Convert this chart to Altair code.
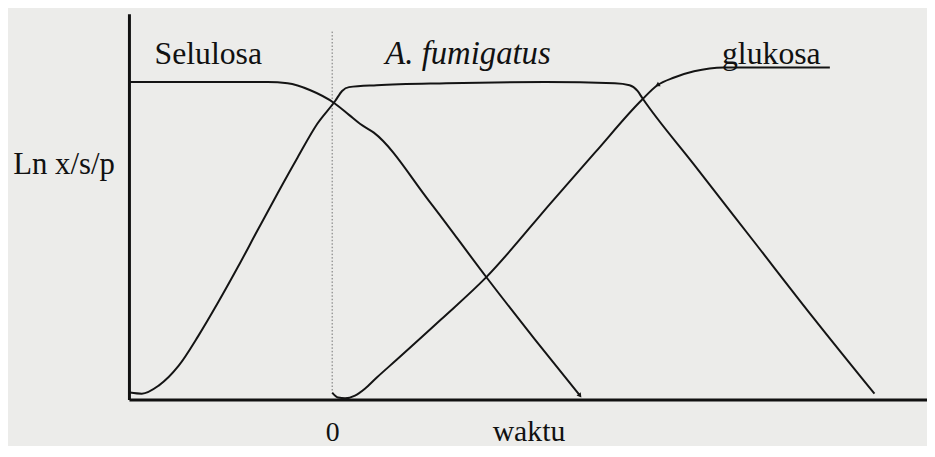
import altair as alt
import pandas as pd

# Selulosa (substrat) : waktu, ln
sel_t = [-4.1, -2.7, -1.3, -0.9, -0.44, 0.04, 0.34, 0.56, 0.84, 1.96, 3.10, 4.10, 5.00]
sel_v = [8.23, 8.23, 8.23, 8.20, 8.02, 7.69, 7.38, 7.15, 6.92, 5.14, 3.19, 1.54, 0.10]

# A. fumigatus (biomassa)
bio_t = [-4.08, -3.84, -3.5, -3.1, -2.7, -2.3, -1.9, -1.5, -1.1, -0.7, -0.3, 0.06, 0.2, 0.34,
         0.9, 2.3, 4.3, 5.7, 6.0, 6.16, 6.26, 7.3, 8.5, 9.7, 10.94]
bio_v = [0.18, 0.15, 0.36, 0.87, 1.65, 2.52, 3.44, 4.40, 5.35, 6.27, 7.15, 7.74, 8.0, 8.10,
         8.15, 8.20, 8.23, 8.20, 8.15, 8.0, 7.81, 6.09, 4.11, 2.13, 0.15]

# glukosa (produk)
glu_t = [0.0, 0.12, 0.26, 0.46, 0.66, 0.9, 1.3, 2.2, 3.1, 4.44, 5.3, 6.24, 6.56, 6.9, 7.3, 7.9, 10.04]
glu_v = [0.18, 0.05, 0.03, 0.10, 0.28, 0.57, 1.03, 2.08, 3.16, 5.14, 6.40, 7.76, 8.15, 8.35, 8.51, 8.61, 8.61]

# dotted marker at t = 0
fase_t = [0.0]
fase_top = [9.54]
fase_bot = [0.18]

label_text = ["Selulosa", "glukosa"]
label_t = [-2.5, 8.86]
label_v = [8.69, 8.69]
italic_text = ["A. fumigatus"]
italic_t = [2.74]
italic_v = [8.69]

rows = []
for name, ts, vs in [("Selulosa", sel_t, sel_v), ("A. fumigatus", bio_t, bio_v), ("glukosa", glu_t, glu_v)]:
    for i, (t, v) in enumerate(zip(ts, vs)):
        rows.append({"seri": name, "waktu": t, "ln": v, "urut": i})
df = pd.DataFrame(rows)

arrows = pd.DataFrame({
    "waktu": [sel_t[-1], glu_t[12]],
    "ln": [sel_v[-1], glu_v[12]],
    "sudut": [142, 239],
})

rule_df = pd.DataFrame({"waktu": fase_t, "ln": fase_top, "ln2": fase_bot})
lab_df = pd.DataFrame({"teks": label_text, "waktu": label_t, "ln": label_v})
ital_df = pd.DataFrame({"teks": italic_text, "waktu": italic_t, "ln": italic_v})

SERIF = "'Liberation Serif', 'Times New Roman', Times, 'Noto Serif', 'DejaVu Serif', serif"
xs = alt.Scale(domain=[-4.1, 12.0], nice=False, zero=False)
ys = alt.Scale(domain=[0, 10], nice=False, zero=False)

x_axis = alt.Axis(values=[0], title="waktu", grid=False, ticks=False, tickSize=0,
                  domainColor="#111111", domainWidth=3,
                  labelFont=SERIF, labelFontSize=28, labelColor="#111111",
                  labelBaseline="alphabetic", labelPadding=41, labelAngle=0,
                  titleFont=SERIF, titleFontSize=30, titleFontWeight="normal",
                  titleColor="#111111", titleX=403, titleY=41,
                  titleAlign="center", titleBaseline="alphabetic")
y_axis = alt.Axis(title="Ln x/s/p", grid=False, ticks=False, labels=False,
                  domainColor="#111111", domainWidth=3,
                  titleFont=SERIF, titleFontSize=31, titleFontWeight="normal",
                  titleColor="#111111", titleAngle=0, titleX=-66, titleY=161,
                  titleAlign="center", titleBaseline="alphabetic")

lines = alt.Chart(df).mark_line(interpolate="monotone", color="#141414", strokeWidth=2).encode(
    x=alt.X("waktu:Q", scale=xs, axis=x_axis),
    y=alt.Y("ln:Q", scale=ys, axis=y_axis),
    detail="seri:N",
    order="urut:Q",
)

rule = alt.Chart(rule_df).mark_rule(color="#707070", strokeWidth=1, strokeDash=[1.5, 2]).encode(
    x=alt.X("waktu:Q", scale=xs),
    y=alt.Y("ln:Q", scale=ys),
    y2="ln2:Q",
)

heads = alt.Chart(arrows).mark_point(shape="triangle-up", filled=True, size=28,
                                     color="#141414", opacity=1).encode(
    x=alt.X("waktu:Q", scale=xs),
    y=alt.Y("ln:Q", scale=ys),
    angle=alt.Angle("sudut:Q", scale=None),
)

labels = alt.Chart(lab_df).mark_text(font=SERIF, fontSize=32, align="center",
                                     baseline="alphabetic", color="#111111").encode(
    x=alt.X("waktu:Q", scale=xs),
    y=alt.Y("ln:Q", scale=ys),
    text="teks:N",
)

ital = alt.Chart(ital_df).mark_text(font=SERIF, fontSize=33, fontStyle="italic", align="center",
                                    baseline="alphabetic", color="#111111").encode(
    x=alt.X("waktu:Q", scale=xs),
    y=alt.Y("ln:Q", scale=ys),
    text="teks:N",
)

chart = alt.layer(rule, lines, heads, labels, ital).properties(
    width=805, height=389,
    autosize="none",
    padding={"left": 122, "top": 4, "right": 0, "bottom": 45},
    background="#ececea",
).configure_view(stroke=None)

chart.save("out.html", embed_options={"renderer": "svg", "actions": False})
